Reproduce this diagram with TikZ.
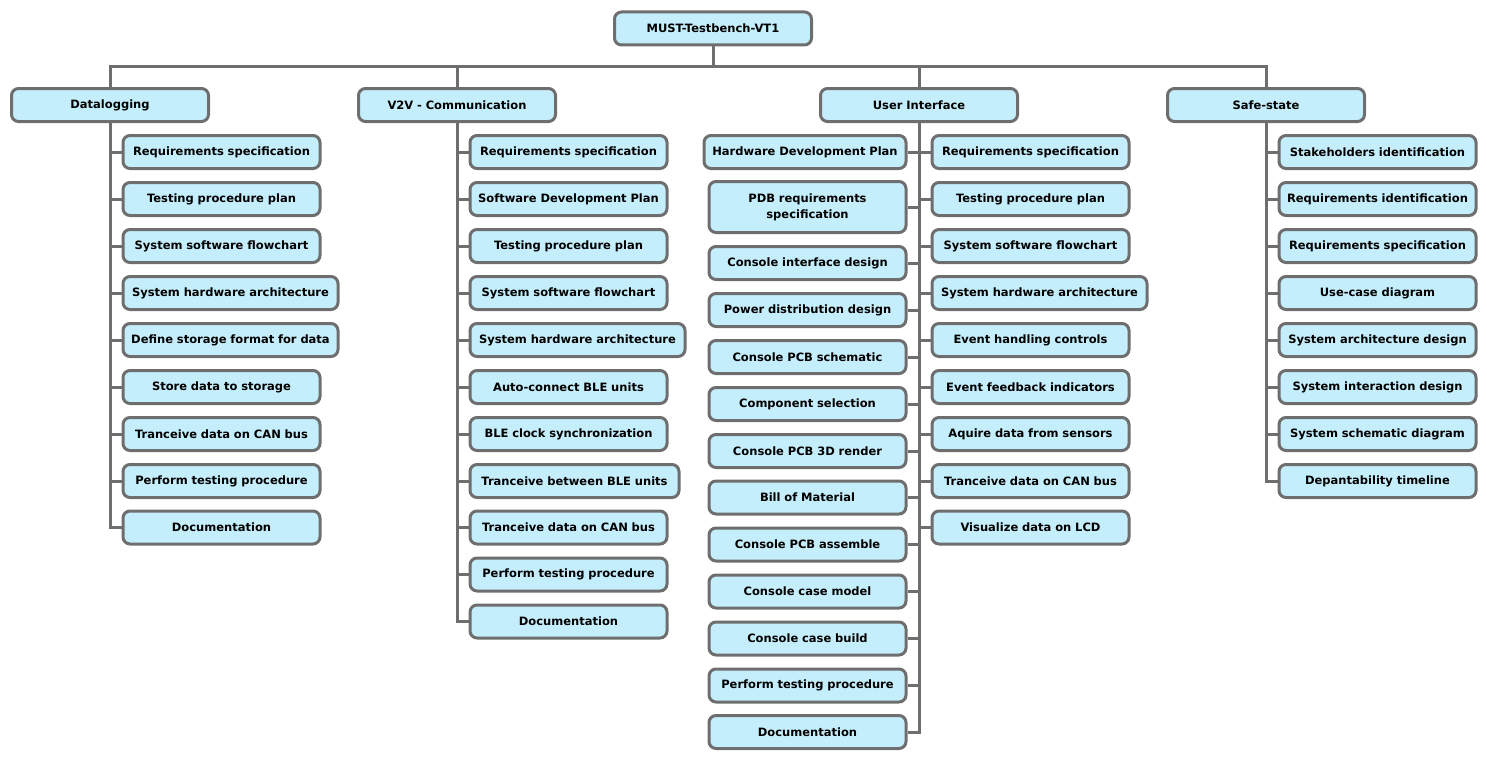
\documentclass[tikz,border=0pt]{standalone}
\usepackage{fontspec}
\setmainfont{DejaVu Sans}
\usepackage{tikz}
\usepackage{xcolor}
\definecolor{boxfill}{HTML}{C4EEFC}
\definecolor{boxline}{HTML}{6E6E6E}

\begin{document}
\begin{tikzpicture}[x=1pt, y=-1pt,
    taskbox/.style={draw=boxline, line width=3pt, fill=boxfill, rounded corners=7pt,
        text width=191pt, align=center, minimum height=33pt, inner xsep=3pt, inner ysep=2pt,
        font=\bfseries\fontsize{11.5}{16}\selectfont},
    link/.style={draw=boxline, line width=3pt}]
            \useasboundingbox (0,0) rectangle (1487,760);
            \node[taskbox] (root) at (713,28.5) {MUST-Testbench-VT1};
            \node[taskbox] (dlog) at (110,105) {Datalogging};
            \node[taskbox] (v2v) at (457,105) {V2V - Communication};
            \node[taskbox] (ui) at (919,105) {User Interface};
            \node[taskbox] (safe) at (1266,105) {Safe-state};
            \coordinate (bus) at (713,66);

            \node[taskbox, anchor=west] (dlog1) at (121.5,152) {Requirements specification};
            \node[taskbox, anchor=west] (dlog2) at (121.5,199) {Testing procedure plan};
            \node[taskbox, anchor=west] (dlog3) at (121.5,246) {System software flowchart};
            \node[taskbox, anchor=west, text width=209pt] (dlog4) at (121.5,293) {System hardware architecture};
            \node[taskbox, anchor=west, text width=209pt] (dlog5) at (121.5,340) {Define storage format for data};
            \node[taskbox, anchor=west] (dlog6) at (121.5,387) {Store data to storage};
            \node[taskbox, anchor=west] (dlog7) at (121.5,434) {Tranceive data on CAN bus};
            \node[taskbox, anchor=west] (dlog8) at (121.5,481) {Perform testing procedure};
            \node[taskbox, anchor=west] (dlog9) at (121.5,527.5) {Documentation};

            \node[taskbox, anchor=west] (v2v1) at (468.5,152) {Requirements specification};
            \node[taskbox, anchor=west] (v2v2) at (468.5,199) {Software Development Plan};
            \node[taskbox, anchor=west] (v2v3) at (468.5,246) {Testing procedure plan};
            \node[taskbox, anchor=west] (v2v4) at (468.5,293) {System software flowchart};
            \node[taskbox, anchor=west, text width=209pt] (v2v5) at (468.5,340) {System hardware architecture};
            \node[taskbox, anchor=west] (v2v6) at (468.5,387) {Auto-connect BLE units};
            \node[taskbox, anchor=west] (v2v7) at (468.5,434) {BLE clock synchronization};
            \node[taskbox, anchor=west, text width=203pt] (v2v8) at (468.5,481) {Tranceive between BLE units};
            \node[taskbox, anchor=west] (v2v9) at (468.5,527.5) {Tranceive data on CAN bus};
            \node[taskbox, anchor=west] (v2v10) at (468.5,574.5) {Perform testing procedure};
            \node[taskbox, anchor=west] (v2v11) at (468.5,621.5) {Documentation};

            \node[taskbox, anchor=east, text width=196pt] (uil1) at (907.5,152) {Hardware Development Plan};
            \node[taskbox, anchor=east, minimum height=51pt] (uil2) at (907.5,207) {PDB requirements\\specification};
            \node[taskbox, anchor=east] (uil3) at (907.5,263) {Console interface design};
            \node[taskbox, anchor=east] (uil4) at (907.5,310) {Power distribution design};
            \node[taskbox, anchor=east] (uil5) at (907.5,357) {Console PCB schematic};
            \node[taskbox, anchor=east] (uil6) at (907.5,404) {Component selection};
            \node[taskbox, anchor=east] (uil7) at (907.5,451) {Console PCB 3D render};
            \node[taskbox, anchor=east] (uil8) at (907.5,497.5) {Bill of Material};
            \node[taskbox, anchor=east] (uil9) at (907.5,544.5) {Console PCB assemble};
            \node[taskbox, anchor=east] (uil10) at (907.5,591.5) {Console case model};
            \node[taskbox, anchor=east] (uil11) at (907.5,638.5) {Console case build};
            \node[taskbox, anchor=east] (uil12) at (907.5,685.5) {Perform testing procedure};
            \node[taskbox, anchor=east] (uil13) at (907.5,732) {Documentation};

            \node[taskbox, anchor=west] (uir1) at (930.5,152) {Requirements specification};
            \node[taskbox, anchor=west] (uir2) at (930.5,199) {Testing procedure plan};
            \node[taskbox, anchor=west] (uir3) at (930.5,246) {System software flowchart};
            \node[taskbox, anchor=west, text width=209pt] (uir4) at (930.5,293) {System hardware architecture};
            \node[taskbox, anchor=west] (uir5) at (930.5,340) {Event handling controls};
            \node[taskbox, anchor=west] (uir6) at (930.5,387) {Event feedback indicators};
            \node[taskbox, anchor=west] (uir7) at (930.5,434) {Aquire data from sensors};
            \node[taskbox, anchor=west] (uir8) at (930.5,481) {Tranceive data on CAN bus};
            \node[taskbox, anchor=west] (uir9) at (930.5,527.5) {Visualize data on LCD};

            \node[taskbox, anchor=west] (safe1) at (1277.5,152) {Stakeholders identification};
            \node[taskbox, anchor=west] (safe2) at (1277.5,199) {Requirements identification};
            \node[taskbox, anchor=west] (safe3) at (1277.5,246) {Requirements specification};
            \node[taskbox, anchor=west] (safe4) at (1277.5,293) {Use-case diagram};
            \node[taskbox, anchor=west] (safe5) at (1277.5,340) {System architecture design};
            \node[taskbox, anchor=west] (safe6) at (1277.5,387) {System interaction design};
            \node[taskbox, anchor=west] (safe7) at (1277.5,434) {System schematic diagram};
            \node[taskbox, anchor=west] (safe8) at (1277.5,481) {Depantability timeline};

            \draw[link] (root.south) -- (bus) (dlog.north) |- (bus) (v2v.north) |- (bus) (ui.north) |- (bus) (safe.north) |- (bus);
            \draw[link] (dlog.south) |- (dlog1.west) (dlog.south) |- (dlog2.west) (dlog.south) |- (dlog3.west)
                (dlog.south) |- (dlog4.west) (dlog.south) |- (dlog5.west) (dlog.south) |- (dlog6.west)
                (dlog.south) |- (dlog7.west) (dlog.south) |- (dlog8.west) (dlog.south) |- (dlog9.west);
            \draw[link] (v2v.south) |- (v2v1.west) (v2v.south) |- (v2v2.west) (v2v.south) |- (v2v3.west)
                (v2v.south) |- (v2v4.west) (v2v.south) |- (v2v5.west) (v2v.south) |- (v2v6.west)
                (v2v.south) |- (v2v7.west) (v2v.south) |- (v2v8.west) (v2v.south) |- (v2v9.west)
                (v2v.south) |- (v2v10.west) (v2v.south) |- (v2v11.west);
            \draw[link] (ui.south) |- (uil1.east) (ui.south) |- (uil2.east) (ui.south) |- (uil3.east)
                (ui.south) |- (uil4.east) (ui.south) |- (uil5.east) (ui.south) |- (uil6.east)
                (ui.south) |- (uil7.east) (ui.south) |- (uil8.east) (ui.south) |- (uil9.east)
                (ui.south) |- (uil10.east) (ui.south) |- (uil11.east) (ui.south) |- (uil12.east)
                (ui.south) |- (uil13.east);
            \draw[link] (ui.south) |- (uir1.west) (ui.south) |- (uir2.west) (ui.south) |- (uir3.west)
                (ui.south) |- (uir4.west) (ui.south) |- (uir5.west) (ui.south) |- (uir6.west)
                (ui.south) |- (uir7.west) (ui.south) |- (uir8.west) (ui.south) |- (uir9.west);
            \draw[link] (safe.south) |- (safe1.west) (safe.south) |- (safe2.west) (safe.south) |- (safe3.west)
                (safe.south) |- (safe4.west) (safe.south) |- (safe5.west) (safe.south) |- (safe6.west)
                (safe.south) |- (safe7.west) (safe.south) |- (safe8.west);
        \end{tikzpicture}
\end{document}
